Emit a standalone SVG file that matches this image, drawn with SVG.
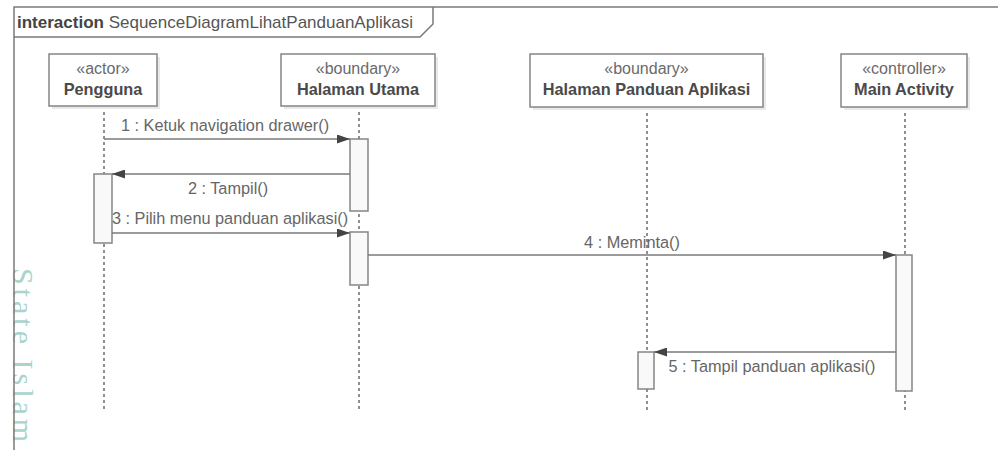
<svg xmlns="http://www.w3.org/2000/svg" width="998" height="450" viewBox="0 0 998 450">
<style>
text{font-family:"Liberation Sans",Arial,sans-serif}
.frame{fill:none;stroke:#7a7a7a;stroke-width:1.5}
.box{fill:#fff;stroke:#858585;stroke-width:1.5}
.shadow{fill:#e9e9e9}
.st{font-size:16px;fill:#6a6a6a;text-anchor:middle}
.nm{font-size:16.3px;font-weight:bold;fill:#4a4a4a;text-anchor:middle}
.life{stroke:#555;stroke-width:1.3;stroke-dasharray:3 3;fill:none}
.act{fill:#f9f9f9;stroke:#858585;stroke-width:1.5}
.msg{stroke:#7a7a7a;stroke-width:1.6;fill:none;marker-end:url(#arr)}
.ml{font-size:16.3px;fill:#666;text-anchor:middle}
.wm{font-family:"Liberation Serif","Times New Roman",serif;font-size:30px;fill:#a9d3cb;letter-spacing:4px}
</style>
<defs>
<marker id="arr" viewBox="0 0 13 9" refX="13" refY="4.5" markerWidth="13" markerHeight="9" markerUnits="userSpaceOnUse" orient="auto">
<path d="M0,0 L13,4.5 L0,9 z" fill="#444"/>
</marker>
</defs>
<rect width="998" height="450" fill="#fff"/>
<text class="wm" transform="translate(13,268) rotate(90)">State Islam</text>
<g id="frame">
<path class="frame" d="M14,450 V7 H998"/>
<path class="frame" d="M14,37 H420 L433,24 V7"/>
<text x="17" y="28" font-size="17px" fill="#555"><tspan font-weight="bold" fill="#444">interaction</tspan> SequenceDiagramLihatPanduanAplikasi</text>
</g>
<g id="lifelines">
<path class="life" d="M104,106 V410"/>
<path class="life" d="M359,106 V410"/>
<path class="life" d="M647,107 V410"/>
<path class="life" d="M905,107 V410"/>
</g>
<g id="pengguna">
<rect class="shadow" x="52" y="57" width="108" height="52"/>
<rect class="box" x="49" y="54" width="108" height="52"/>
<text class="st" x="103" y="74">«actor»</text>
<text class="nm" x="103" y="95">Pengguna</text>
</g>
<g id="halaman-utama">
<rect class="shadow" x="284" y="57" width="154" height="52"/>
<rect class="box" x="281" y="54" width="154" height="52"/>
<text class="st" x="358" y="74">«boundary»</text>
<text class="nm" x="358" y="95">Halaman Utama</text>
</g>
<g id="halaman-panduan">
<rect class="shadow" x="533" y="57" width="233" height="53"/>
<rect class="box" x="530" y="54" width="233" height="53"/>
<text class="st" x="646.5" y="74">«boundary»</text>
<text class="nm" x="646.5" y="95">Halaman Panduan Aplikasi</text>
</g>
<g id="main-activity">
<rect class="shadow" x="844" y="57" width="126" height="53"/>
<rect class="box" x="841" y="54" width="126" height="53"/>
<text class="st" x="904" y="74">«controller»</text>
<text class="nm" x="904" y="95">Main Activity</text>
</g>
<g id="activations">
<rect class="act" x="350" y="139" width="18" height="72"/>
<rect class="act" x="350" y="232" width="18" height="53"/>
<rect class="act" x="94" y="174" width="18" height="69"/>
<rect class="act" x="896" y="255" width="16" height="136"/>
<rect class="act" x="638" y="352" width="16" height="37"/>
</g>
<g id="connectors">
<path class="msg" d="M104,139 H350"/>
<text class="ml" x="225" y="131">1 : Ketuk navigation drawer()</text>
<path class="msg" d="M350,174 H112"/>
<text class="ml" x="228" y="194">2 : Tampil()</text>
<path class="msg" d="M112,233 H350"/>
<text class="ml" x="230" y="224">3 : Pilih menu panduan aplikasi()</text>
<path class="msg" d="M368,255 H896"/>
<text class="ml" x="632" y="248">4 : Meminta()</text>
<path class="msg" d="M896,352 H654"/>
<text class="ml" x="772" y="372">5 : Tampil panduan aplikasi()</text>
</g>
</svg>
